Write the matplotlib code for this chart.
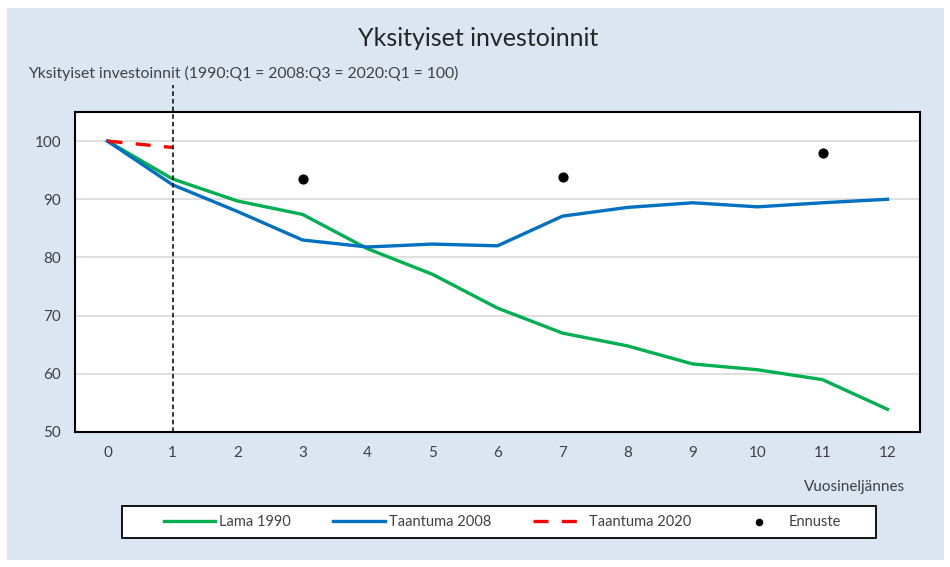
import matplotlib
matplotlib.use("Agg")
import matplotlib.pyplot as plt
from matplotlib.patches import Rectangle

GREEN, BLUE, RED = "#00B050", "#0070C0", "#FF0000"
BG = "#DCE6F2"
plt.rcParams.update({
    "font.family": ["Lato", "DejaVu Sans"],
    "text.color": "#404040",
})

quarters = list(range(13))
lama_1990 = [100, 93.5, 89.7, 87.4, 81.5, 77.1, 71.3, 67.0, 64.8, 61.7, 60.7, 59.0, 53.9]
taantuma_2008 = [100, 92.5, 87.9, 83.0, 81.8, 82.3, 82.0, 87.1, 88.6, 89.4, 88.7, 89.4, 90.0]
taantuma_2020_x = [0, 1]
taantuma_2020 = [100, 98.9]
ennuste_x = [3, 7, 11]
ennuste = [93.5, 93.9, 97.9]
yticks = [50, 60, 70, 80, 90, 100]

fig = plt.figure(figsize=(9.5, 5.67), dpi=100, facecolor="white")
fig.patches.append(Rectangle((7 / 950, 7 / 567), 937 / 950, 552 / 567,
                             transform=fig.transFigure, facecolor=BG,
                             edgecolor="none", zorder=-1))
# legend frame drawn separately so the entries can sit inset like the original
fig.patches.append(Rectangle((122 / 950, 29 / 567), 754 / 950, 32.5 / 567,
                             transform=fig.transFigure, facecolor="white",
                             edgecolor="black", linewidth=1.3, zorder=0))

ax = fig.add_axes([75 / 950, 135 / 567, 845 / 950, 320 / 567])
ax.set_facecolor("white")

ax.plot(quarters, lama_1990, color=GREEN, linewidth=2.4, label="Lama 1990", zorder=3)
ax.plot(quarters, taantuma_2008, color=BLUE, linewidth=2.4, label="Taantuma 2008", zorder=3)
ax.plot(taantuma_2020_x, taantuma_2020, color=RED, linewidth=2.4, linestyle=(0, (4.5, 4)),
        label="Taantuma 2020", zorder=4)
ax.scatter(ennuste_x, ennuste, s=40, color="black", label="Ennuste", zorder=5)

# vertical marker at quarter 1, running up into the subtitle area
ax.axvline(1, ymin=0, ymax=1.085, color="black", linewidth=1.1,
           linestyle=(0, (3, 2)), clip_on=False, zorder=6)

ax.set_xlim(-0.5, 12.5)
ax.set_ylim(50, 105)
ax.set_xticks(quarters)
ax.set_yticks(yticks)
ax.tick_params(length=0, labelsize=11, colors="#404040", pad=10)
ax.grid(axis="y", color="#D9D9D9", linewidth=1.2)
ax.set_axisbelow(True)
for s in ax.spines.values():
    s.set_color("black")
    s.set_linewidth(1.5)

fig.text(478 / 950, 1 - 38 / 567, "Yksityiset investoinnit", ha="center", va="center",
         fontsize=18, color="#262626")
fig.text(28 / 950, 1 - 73 / 567, "Yksityiset investoinnit (1990:Q1 = 2008:Q3 = 2020:Q1 = 100)",
         ha="left", va="center", fontsize=11.3, color="#404040")
fig.text(905 / 950, 1 - 487 / 567, "Vuosineljännes", ha="right", va="center",
         fontsize=11, color="#404040")

leg = fig.legend(loc="center left", bbox_to_anchor=(164 / 950, 1 - 522 / 567),
                 ncol=4, frameon=False, fontsize=10.5, handlelength=3.5,
                 handletextpad=0.3, columnspacing=2.9, borderaxespad=0, borderpad=0,
                 markerscale=0.7)

fig.savefig("out.png", dpi=100, facecolor="white")
